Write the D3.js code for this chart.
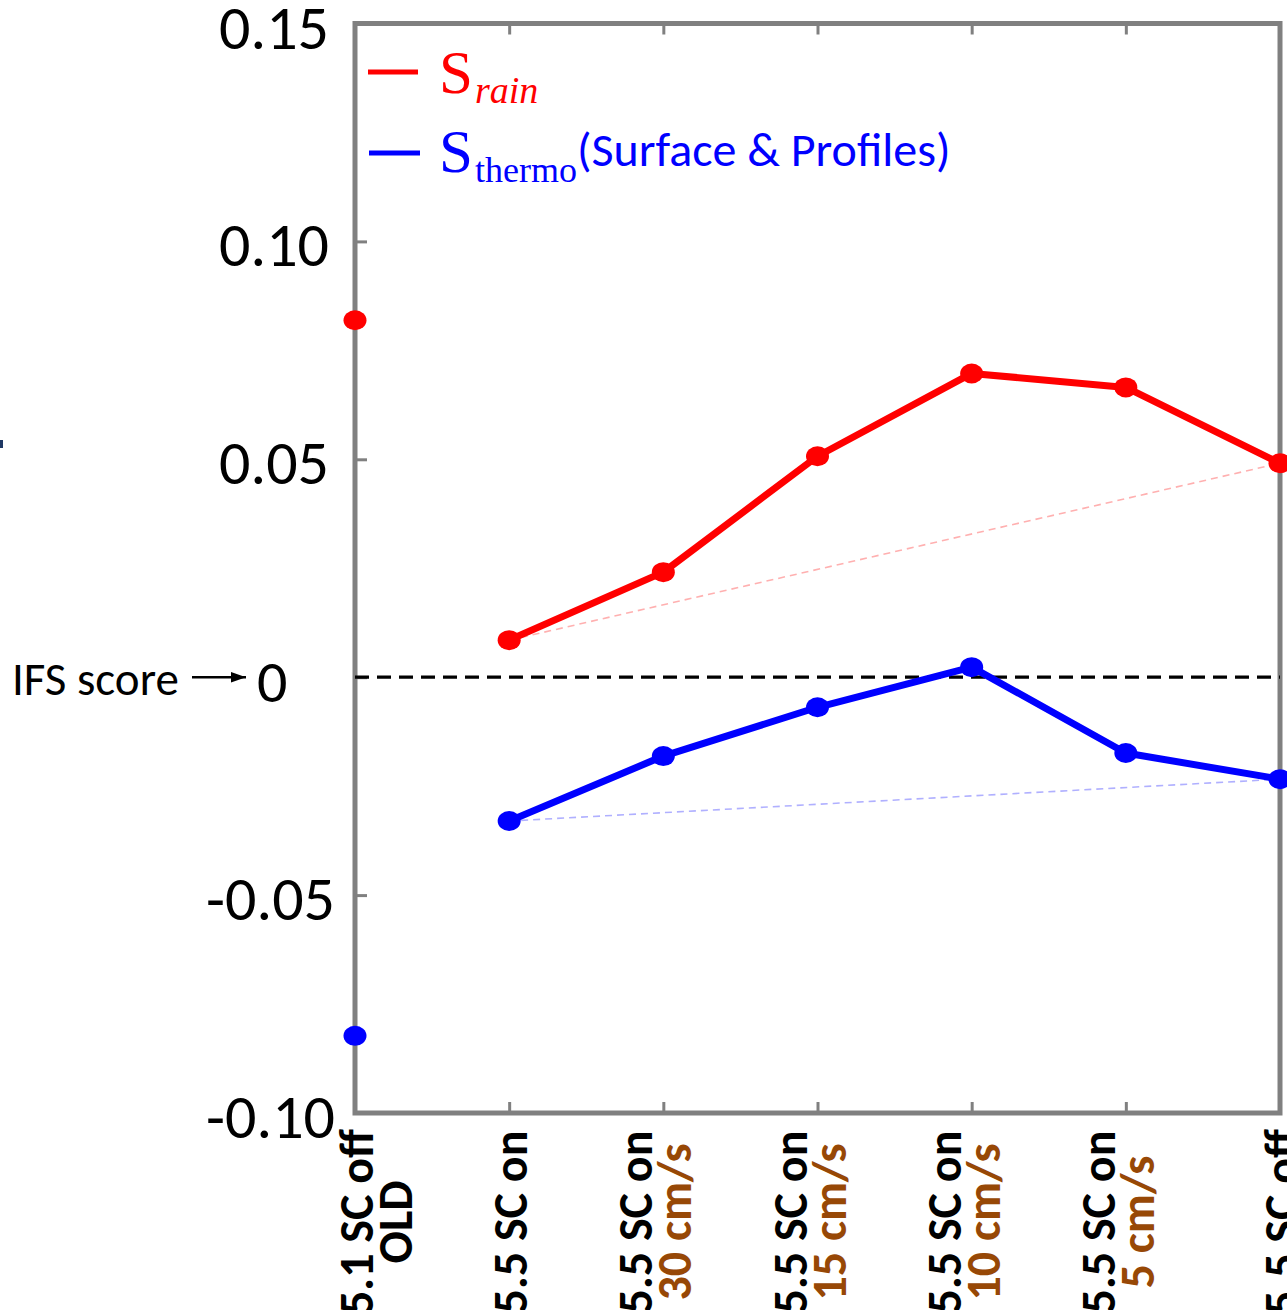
<!DOCTYPE html>
<html>
<head>
<meta charset="utf-8">
<script src="https://cdn.jsdelivr.net/npm/d3@7"></script>
<style>
  html, body { margin: 0; padding: 0; background: #fff; overflow: hidden; }
  svg { display: block; }
</style>
</head>
<body>
<svg id="chart" width="1287" height="1310"></svg>
<script>
// Experiment labels: first (black) line and optional second (brown) line
const labelMain = ["5.1 SC off", "5.5 SC on", "5.5 SC on", "5.5 SC on", "5.5 SC on", "5.5 SC on", "5.5 SC off"];
const labelSub  = ["OLD", "", "30 cm/s", "15 cm/s", "10 cm/s", "5 cm/s", ""];
// Scores relative to IFS
const sRain   = [0.0819, 0.0085, 0.0241, 0.0507, 0.0697, 0.0665, 0.0491];
const sThermo = [-0.0823, -0.0330, -0.0181, -0.0069, 0.0023, -0.0174, -0.0234];
const yTicks = [0.15, 0.10, 0.05, 0, -0.05, -0.10];
const yTickText = ["0.15", "0.10", "0.05", "0", "-0.05", "-0.10"];

const RED = "#ff0000", BLUE = "#0000ff", BROWN = "#974806", FRAME = "#808080";
const SANS = "Carlito, Lato, 'Open Sans', sans-serif";
const SERIF = "'Liberation Serif', 'DejaVu Serif', serif";

const svg = d3.select("#chart");
const plotL = 355, plotR = 1280, plotT = 23.5, plotB = 1113;

const x = d3.scalePoint().domain(d3.range(labelMain.length)).range([plotL, plotR]);
const y = d3.scaleLinear().domain([-0.10, 0.15]).range([plotB, plotT]);

// Frame
svg.append("rect")
  .attr("x", plotL).attr("y", plotT)
  .attr("width", plotR - plotL).attr("height", plotB - plotT)
  .attr("fill", "none").attr("stroke", FRAME).attr("stroke-width", 5);

// Inward ticks on left axis
const yAxis = d3.axisLeft(y).tickValues(yTicks.filter(v => v !== 0.15 && v !== -0.10))
  .tickSizeInner(-12).tickSizeOuter(0).tickFormat("");
const gy = svg.append("g").attr("transform", `translate(${plotL},0)`).call(yAxis);
gy.select(".domain").remove();
gy.selectAll("line").attr("stroke", FRAME).attr("stroke-width", 3);

// Inward ticks on top and bottom
const inner = d3.range(1, labelMain.length - 1);
const gx = svg.append("g").attr("transform", `translate(0,${plotB})`)
  .call(d3.axisBottom(x).tickValues(inner).tickSizeInner(-11).tickSizeOuter(0).tickFormat(""));
gx.select(".domain").remove();
gx.selectAll("line").attr("stroke", FRAME).attr("stroke-width", 3);
const gt = svg.append("g").attr("transform", `translate(0,${plotT})`)
  .call(d3.axisTop(x).tickValues(inner).tickSizeInner(-11).tickSizeOuter(0).tickFormat(""));
gt.select(".domain").remove();
gt.selectAll("line").attr("stroke", FRAME).attr("stroke-width", 3);

// Y tick labels (zero drawn with the IFS score marker)
yTicks.forEach((v, i) => {
  if (v === 0) return;
  svg.append("text")
    .attr("x", v < 0 ? 335 : 329).attr("y", y(v) + 4)
    .attr("text-anchor", "end").attr("dominant-baseline", "central")
    .attr("font-family", SANS).attr("font-size", 62).attr("fill", "#000")
    .text(yTickText[i]);
});
svg.append("text")
  .attr("x", 257).attr("y", y(0) + 4)
  .attr("dominant-baseline", "central")
  .attr("font-family", SANS).attr("font-size", 60).attr("fill", "#000")
  .text("0");
svg.append("text")
  .attr("x", 12).attr("y", y(0) + 2)
  .attr("dominant-baseline", "central")
  .attr("font-family", SANS).attr("font-size", 47).attr("fill", "#000")
  .text("IFS score");
svg.append("defs").append("marker")
  .attr("id", "arrow").attr("viewBox", "0 0 10 10")
  .attr("refX", 10).attr("refY", 5).attr("markerWidth", 6).attr("markerHeight", 6)
  .attr("markerUnits", "strokeWidth").attr("orient", "auto")
  .append("path").attr("d", "M0,1.5 L10,5 L0,8.5 Z").attr("fill", "#000");
svg.append("line")
  .attr("x1", 192).attr("x2", 246).attr("y1", y(0)).attr("y2", y(0))
  .attr("stroke", "#000").attr("stroke-width", 2.5).attr("marker-end", "url(#arrow)");

// Zero reference
svg.append("line")
  .attr("x1", plotL).attr("x2", plotR).attr("y1", y(0)).attr("y2", y(0))
  .attr("stroke", "#000").attr("stroke-width", 3.2).attr("stroke-dasharray", "14 8");

// Faint straight connectors between the first and last 5.5 experiments
const first = 1, last = labelMain.length - 1;
[[sRain, "#ffb0b0"], [sThermo, "#b0b0ff"]].forEach(([vals, c]) => {
  svg.append("line")
    .attr("x1", x(first)).attr("y1", y(vals[first]))
    .attr("x2", x(last)).attr("y2", y(vals[last]))
    .attr("stroke", c).attr("stroke-width", 1.6).attr("stroke-dasharray", "7 5");
});

// Series lines (5.5 experiments) and markers (all)
const line = d3.line().x(d => x(d.i)).y(d => y(d.v));
[[sRain, RED], [sThermo, BLUE]].forEach(([vals, c]) => {
  const pts = vals.map((v, i) => ({ i, v }));
  svg.append("path")
    .datum(pts.slice(1))
    .attr("d", line).attr("fill", "none")
    .attr("stroke", c).attr("stroke-width", 7).attr("stroke-linejoin", "round");
  svg.selectAll(null).data(pts).enter().append("ellipse")
    .attr("cx", d => x(d.i)).attr("cy", d => y(d.v))
    .attr("rx", 11.5).attr("ry", 10).attr("fill", c);
});

// Rotated category labels
const labelCenterY = 1222;
labelMain.forEach((t, i) => {
  const twoLine = labelSub[i] !== "";
  const speed = twoLine && labelSub[i].includes("cm/s");
  const b1 = speed ? -11 : 18;
  const g = svg.append("g").attr("transform", `translate(${x(i)},${labelCenterY}) rotate(-90)`);
  g.append("text")
    .attr("x", 0).attr("y", b1)
    .attr("text-anchor", "middle")
    .attr("font-family", SANS).attr("font-weight", "bold").attr("font-size", 48)
    .attr("fill", "#000").text(t);
  if (twoLine) {
    g.append("text")
      .attr("x", 0).attr("y", b1 + 39)
      .attr("text-anchor", "middle")
      .attr("font-family", SANS).attr("font-weight", "bold").attr("font-size", 48)
      .attr("fill", speed ? BROWN : "#000").text(labelSub[i]);
  }
});

// Legend
const leg = svg.append("g");
leg.append("line").attr("x1", 368).attr("x2", 418).attr("y1", 72).attr("y2", 72)
  .attr("stroke", RED).attr("stroke-width", 5);
const t1 = leg.append("text").attr("x", 439).attr("y", 93)
  .attr("font-family", SERIF).attr("font-size", 61).attr("fill", RED);
t1.append("tspan").text("S");
t1.append("tspan").attr("dy", 10).attr("dx", 2).attr("font-size", 38).attr("font-style", "italic").text("rain");

leg.append("line").attr("x1", 369).attr("x2", 420).attr("y1", 153).attr("y2", 153)
  .attr("stroke", BLUE).attr("stroke-width", 5);
const t2 = leg.append("text").attr("x", 439).attr("y", 172)
  .attr("font-family", SERIF).attr("font-size", 61).attr("fill", BLUE);
t2.append("tspan").text("S");
t2.append("tspan").attr("dy", 10).attr("dx", 2).attr("font-size", 36).text("thermo");
t2.append("tspan").attr("dy", -16).attr("font-family", SANS).attr("font-size", 48).text("(Surface & Profiles)");

// Small edge mark at left
svg.append("rect").attr("x", 0).attr("y", 440).attr("width", 3).attr("height", 8).attr("fill", "#1f3864");
</script>
</body>
</html>
